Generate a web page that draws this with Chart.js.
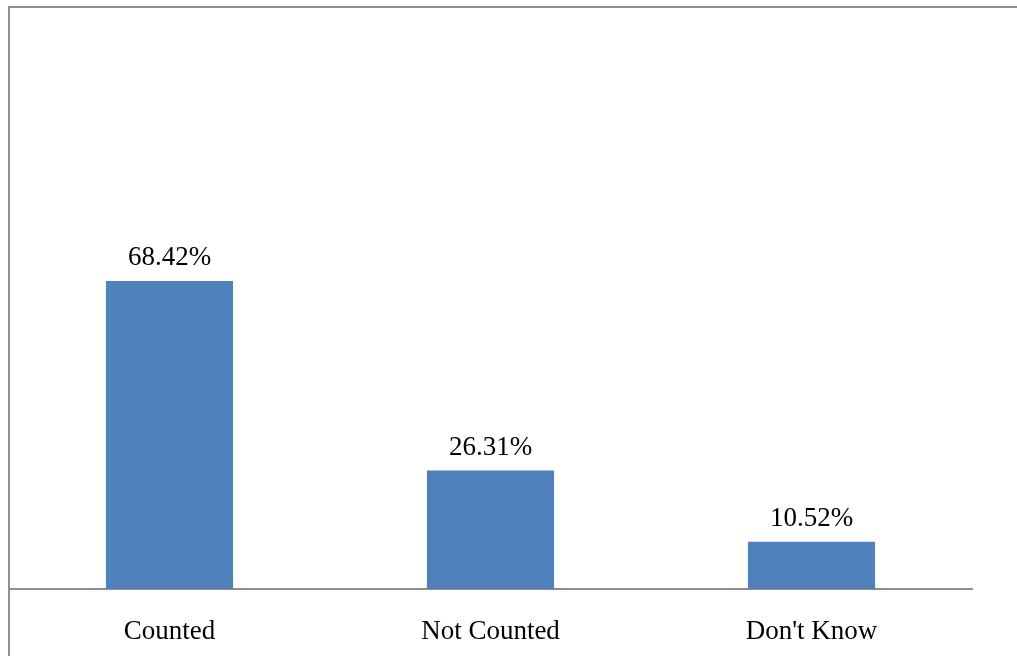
<!DOCTYPE html>
<html>
<head>
<meta charset="utf-8">
<script src="https://cdn.jsdelivr.net/npm/chart.js@4"></script>
<style>
    html, body { margin: 0; padding: 0; background: #fff; }
    #wrap { width: 1017px; height: 656px; position: relative; }
</style>
</head>
<body>
<div id="wrap"><canvas id="chart"></canvas></div>
<script>
// Chart data
const categories = ['Counted', 'Not Counted', "Don't Know"];
const percentValues = [68.42, 26.31, 10.52];
const valueLabels = ['68.42%', '26.31%', '10.52%'];

const serif = '"Liberation Serif", "Times New Roman", serif';

// Outer frame (left and top edge of the box)
const framePlugin = {
    id: 'frame',
    beforeDraw(chart) {
        const ctx = chart.ctx;
        ctx.save();
        ctx.strokeStyle = '#8e8e8e';
        ctx.lineWidth = 2;
        ctx.beginPath();
        ctx.moveTo(9, 656);
        ctx.lineTo(9, 7);
        ctx.lineTo(1017, 7);
        ctx.stroke();
        ctx.restore();
    }
};

// Percentage labels above each bar
const valueLabelPlugin = {
    id: 'valueLabels',
    afterDatasetsDraw(chart) {
        const ctx = chart.ctx;
        const meta = chart.getDatasetMeta(0);
        ctx.save();
        ctx.fillStyle = '#000';
        ctx.font = '27px ' + serif;
        ctx.textAlign = 'center';
        ctx.textBaseline = 'alphabetic';
        meta.data.forEach(function(bar, i) {
            ctx.fillText(valueLabels[i], bar.x, bar.y - 16);
        });
        ctx.restore();
    }
};

document.addEventListener('DOMContentLoaded', function() {
    const ctx = document.getElementById('chart').getContext('2d');
    new Chart(ctx, {
        type: 'bar',
        data: {
            labels: categories,
            datasets: [{
                data: percentValues,
                backgroundColor: '#4f81bd',
                borderWidth: 0,
                categoryPercentage: 1,
                barPercentage: 0.396
            }]
        },
        options: {
            responsive: true,
            maintainAspectRatio: false,
            animation: false,
            layout: {
                padding: { left: 9, right: 45, top: 139, bottom: 8 }
            },
            scales: {
                x: {
                    grid: { display: false, drawTicks: false },
                    border: { display: true, color: '#8e8e8e', width: 2 },
                    ticks: {
                        color: '#000',
                        padding: 27,
                        font: { family: serif, size: 27 }
                    },
                    afterFit: function(scale) {
                        scale.height = 59;
                    }
                },
                y: {
                    display: false,
                    min: 0,
                    max: 100
                }
            },
            plugins: {
                legend: { display: false },
                tooltip: { enabled: false }
            }
        },
        plugins: [framePlugin, valueLabelPlugin]
    });
});
</script>
</body>
</html>
